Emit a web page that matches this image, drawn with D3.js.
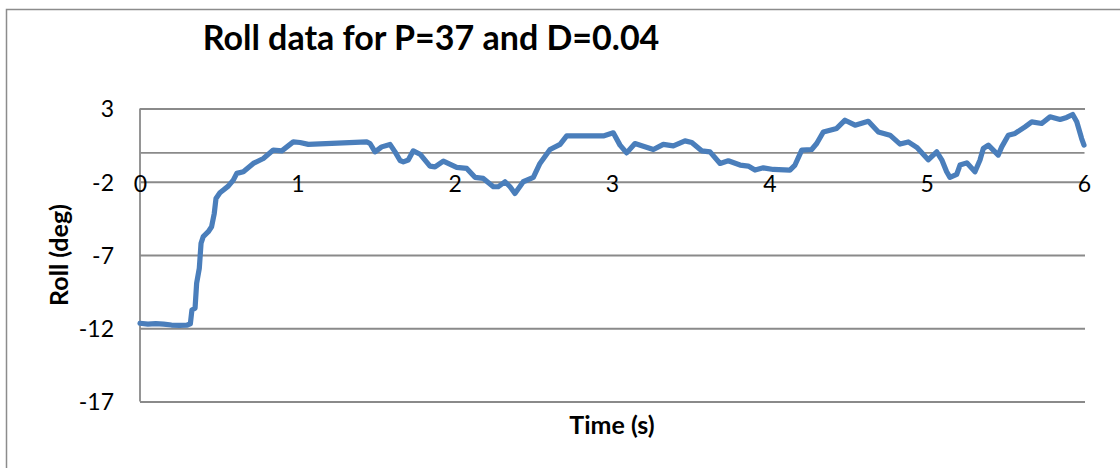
<!DOCTYPE html>
<html>
<head>
<meta charset="utf-8">
<script src="https://cdn.jsdelivr.net/npm/d3@7"></script>
<style>
  html, body { margin: 0; padding: 0; background: #fff; }
  svg { display: block; }
  text { font-family: Lato, "Open Sans", sans-serif; fill: #000; }
</style>
</head>
<body>
<svg id="chart" width="1120" height="468"></svg>
<script>
// Roll angle samples (seconds, degrees)
const timeS = [0, 0.05, 0.10, 0.15, 0.20, 0.25, 0.30, 0.32, 0.33, 0.35, 0.36, 0.377, 0.388, 0.402, 0.434, 0.455, 0.472, 0.483, 0.508, 0.561, 0.593, 0.615, 0.657, 0.72, 0.784, 0.847, 0.901, 0.974, 1.017, 1.07, 1.441, 1.462, 1.494, 1.536, 1.589, 1.621, 1.653, 1.674, 1.705, 1.737, 1.78, 1.843, 1.875, 1.928, 2.013, 2.077, 2.129, 2.182, 2.246, 2.277, 2.32, 2.352, 2.383, 2.436, 2.5, 2.542, 2.606, 2.67, 2.712, 2.945, 3.008, 3.051, 3.093, 3.146, 3.199, 3.263, 3.326, 3.39, 3.464, 3.507, 3.57, 3.623, 3.687, 3.739, 3.814, 3.866, 3.909, 3.962, 4.025, 4.131, 4.163, 4.206, 4.269, 4.301, 4.343, 4.428, 4.481, 4.545, 4.629, 4.693, 4.767, 4.831, 4.883, 4.937, 5.01, 5.064, 5.096, 5.127, 5.148, 5.191, 5.212, 5.255, 5.307, 5.339, 5.36, 5.392, 5.455, 5.477, 5.519, 5.562, 5.625, 5.668, 5.731, 5.784, 5.848, 5.89, 5.928, 5.954, 5.985, 6.0];
const rollDeg = [-11.66, -11.72, -11.68, -11.72, -11.78, -11.8, -11.78, -11.7, -10.75, -10.63, -8.93, -7.9, -6.2, -5.75, -5.41, -5.07, -4.16, -3.14, -2.75, -2.3, -1.89, -1.43, -1.32, -0.75, -0.41, 0.16, 0.11, 0.72, 0.68, 0.55, 0.72, 0.61, 0.04, 0.38, 0.55, 0.04, -0.55, -0.64, -0.52, 0.11, -0.12, -0.93, -0.98, -0.59, -1.02, -1.09, -1.7, -1.77, -2.34, -2.34, -2.0, -2.34, -2.8, -2.0, -1.7, -0.75, 0.2, 0.55, 1.13, 1.13, 1.34, 0.5, -0.03, 0.61, 0.43, 0.2, 0.55, 0.45, 0.79, 0.68, 0.11, 0.04, -0.75, -0.57, -0.86, -0.93, -1.2, -1.05, -1.16, -1.2, -0.86, 0.16, 0.2, 0.61, 1.4, 1.64, 2.2, 1.86, 2.13, 1.4, 1.18, 0.57, 0.72, 0.35, -0.5, 0.04, -0.5, -1.32, -1.7, -1.5, -0.86, -0.71, -1.32, -0.52, 0.27, 0.5, -0.18, 0.38, 1.18, 1.3, 1.75, 2.09, 1.98, 2.43, 2.25, 2.39, 2.59, 2.09, 0.95, 0.5];

const xTicks = [0, 1, 2, 3, 4, 5, 6];
const yTicks = [3, -2, -7, -12, -17];

const titleText = "Roll data for P=37 and D=0.04";
const xTitle = "Time (s)";
const yTitle = "Roll (deg)";

const svg = d3.select("#chart");
const plot = { left: 140, right: 1084, top: 108.5, bottom: 401.5 };

const x = d3.scaleLinear().domain([0, 6]).range([plot.left, plot.right]);
const y = d3.scaleLinear().domain([-17, 3]).range([plot.bottom, plot.top]);

// chart frame
svg.append("rect")
  .attr("x", 6.5).attr("y", 9.5)
  .attr("width", 1130).attr("height", 480)
  .attr("fill", "none").attr("stroke", "#8c8c8c").attr("stroke-width", 1.5);

// horizontal gridlines
const gridAxis = d3.axisLeft(y).tickValues(yTicks)
  .tickSize(-(plot.right - plot.left + 1)).tickFormat("");
svg.append("g")
  .attr("transform", `translate(${plot.left},0)`)
  .call(gridAxis)
  .call(g => g.select(".domain").remove())
  .call(g => g.selectAll("line").attr("stroke", "#8a8a8a").attr("stroke-width", 1.8));

// vertical value axis
svg.append("line")
  .attr("x1", plot.left).attr("x2", plot.left)
  .attr("y1", y(3)).attr("y2", y(-17))
  .attr("stroke", "#8a8a8a").attr("stroke-width", 1.8);

// y tick labels
const yAxis = d3.axisLeft(y).tickValues(yTicks).tickSize(0).tickPadding(26)
  .tickFormat(d => d3.format("d")(d).replace("−", "-"));
svg.append("g")
  .attr("transform", `translate(${plot.left},0)`)
  .call(yAxis)
  .call(g => g.select(".domain").remove())
  .call(g => g.selectAll("text")
    .style("font-family", "Lato, sans-serif").style("font-size", "23px")
    .attr("fill", "#000").attr("dy", "0.36em"));

// horizontal category axis at zero
const xAxis = d3.axisBottom(x).tickValues(xTicks).tickSize(0).tickPadding(23)
  .tickFormat(d3.format("d"));
svg.append("g")
  .attr("transform", `translate(0,${y(0)})`)
  .call(xAxis)
  .call(g => g.select(".domain")
    .attr("stroke", "#8a8a8a").attr("stroke-width", 1.8))
  .call(g => g.selectAll("text")
    .style("font-family", "Lato, sans-serif").style("font-size", "23px")
    .attr("fill", "#000"));

// roll trace
const line = d3.line()
  .x((d, i) => x(timeS[i]))
  .y(d => y(d))
  .curve(d3.curveLinear);

svg.append("path")
  .datum(rollDeg)
  .attr("d", line)
  .attr("fill", "none")
  .attr("stroke", "#4a7ebb")
  .attr("stroke-width", 5.2)
  .attr("stroke-linejoin", "round")
  .attr("stroke-linecap", "round");

// titles
svg.append("text")
  .attr("x", 431).attr("y", 50)
  .attr("text-anchor", "middle")
  .style("font-size", "34px").style("font-weight", "bold")
  .text(titleText);

svg.append("text")
  .attr("x", 612).attr("y", 434)
  .attr("text-anchor", "middle")
  .style("font-size", "25px").style("font-weight", "bold")
  .text(xTitle);

svg.append("text")
  .attr("transform", "translate(68,255) rotate(-90)")
  .attr("text-anchor", "middle")
  .style("font-size", "25px").style("font-weight", "bold")
  .text(yTitle);
</script>
</body>
</html>
